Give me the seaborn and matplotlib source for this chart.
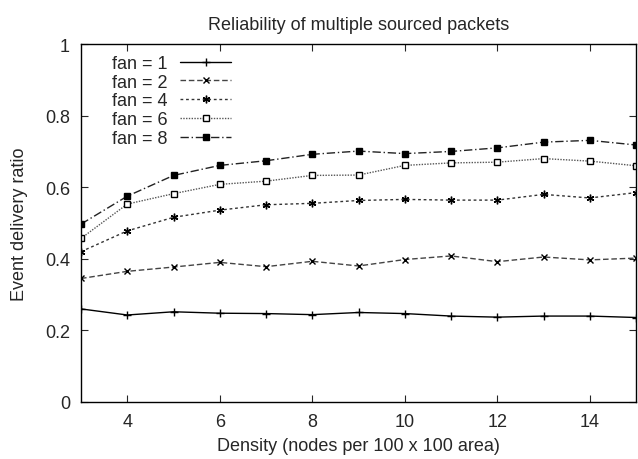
import pandas as pd
import matplotlib
matplotlib.use("Agg")
import matplotlib.pyplot as plt
import matplotlib.ticker as mticker
import seaborn as sns

density = [3, 4, 5, 6, 7, 8, 9, 10, 11, 12, 13, 14, 15]
fan1 = [0.260, 0.243, 0.252, 0.248, 0.247, 0.244, 0.250, 0.247, 0.240, 0.237, 0.240, 0.240, 0.236]
fan2 = [0.345, 0.365, 0.377, 0.390, 0.378, 0.393, 0.380, 0.398, 0.408, 0.392, 0.405, 0.397, 0.402]
fan4 = [0.420, 0.478, 0.516, 0.536, 0.551, 0.555, 0.563, 0.566, 0.564, 0.564, 0.580, 0.570, 0.585]
fan6 = [0.457, 0.553, 0.582, 0.608, 0.617, 0.633, 0.634, 0.661, 0.668, 0.670, 0.680, 0.673, 0.660]
fan8 = [0.497, 0.575, 0.633, 0.661, 0.674, 0.692, 0.701, 0.694, 0.700, 0.710, 0.726, 0.731, 0.718]
labels = ["fan = 1", "fan = 2", "fan = 4", "fan = 6", "fan = 8"]

series = [fan1, fan2, fan4, fan6, fan8]
df = pd.concat(
    [pd.DataFrame({"density": density, "ratio": s, "fan": lab}) for s, lab in zip(series, labels)],
    ignore_index=True,
)

sns.set_style("ticks")
plt.rcParams["font.family"] = ["Liberation Sans", "DejaVu Sans"]
FS = 13

# gnuplot-like line styles
styles = {
    "fan = 1": dict(color="black", linestyle="-", marker="+", mfc="black", ms=6),
    "fan = 2": dict(color="#444444", linestyle=(0, (4, 2)), marker="x", mfc="black", ms=4.5),
    "fan = 4": dict(color="#333333", linestyle=(0, (2, 2)), marker=(6, 2, 0), mfc="black", ms=5.5),
    "fan = 6": dict(color="#555555", linestyle=(0, (1, 1)), marker="s", mfc="white", ms=4.5),
    "fan = 8": dict(color="#222222", linestyle=(0, (6, 2, 1, 2)), marker="s", mfc="black", ms=4.5),
}

fig = plt.figure(figsize=(6.38, 4.60), dpi=100)
ax = fig.add_axes([0.127, 0.124, 0.870, 0.778])

for lab in labels:
    st = styles[lab]
    sns.lineplot(data=df[df["fan"] == lab], x="density", y="ratio", ax=ax, label=lab,
                 color=st["color"], linestyle=st["linestyle"], marker=st["marker"],
                 markersize=st["ms"], markerfacecolor=st["mfc"], markeredgecolor="black",
                 markeredgewidth=1.0, linewidth=1.0)

ax.set_xlim(3, 15)
ax.set_ylim(0, 1)
ax.set_xticks([4, 6, 8, 10, 12, 14])
ax.set_yticks([0, 0.2, 0.4, 0.6, 0.8, 1.0])
ax.yaxis.set_major_formatter(mticker.FuncFormatter(lambda v, p: f"{v:g}"))
ax.tick_params(direction="in", top=True, right=True, length=5, labelsize=FS, width=0.8, pad=8)
for sp in ax.spines.values():
    sp.set_visible(True)
    sp.set_linewidth(1.0)
    sp.set_color("black")

ax.set_title("Reliability of multiple sourced packets", fontsize=FS, pad=11)
ax.set_xlabel("Density (nodes per 100 x 100 area)", fontsize=FS, labelpad=5)
ax.set_ylabel("Event delivery ratio", fontsize=FS, labelpad=12)

ax.legend(loc="upper left", frameon=False, markerfirst=False, fontsize=FS,
          handlelength=2.8, labelspacing=0.1, borderaxespad=0.0, handletextpad=0.7,
          bbox_to_anchor=(0.043, 0.99))

fig.savefig("out.png", dpi=100)
